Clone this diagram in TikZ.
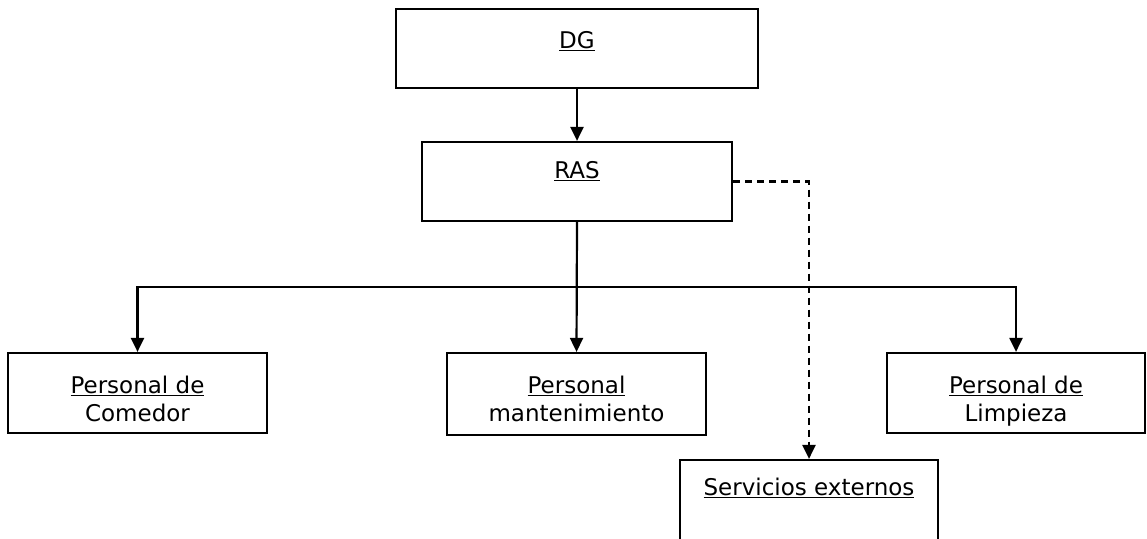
\documentclass[tikz,border=0pt]{standalone}
\usepackage{fontspec}
\setmainfont{DejaVu Sans}
\usetikzlibrary{arrows.meta}
\begin{document}
\begin{tikzpicture}[x=1pt,y=-1pt,
  box/.style={draw=black,line width=2.2pt,fill=white,rectangle,inner sep=0pt},
  lbl/.style={anchor=base,inner sep=0pt,font=\fontsize{23}{28}\selectfont},
  conn/.style={line width=2.2pt,-{Triangle[width=13pt,length=14pt]}},
  dsh/.style={conn,dash pattern=on 7pt off 5pt}]
\useasboundingbox (0,0) rectangle (1147,538);
\clip (0,0) rectangle (1147,538);
% boxes
\node[box,minimum width=362pt,minimum height=79pt] (dg) at (577,48.5) {};
\node[box,minimum width=310pt,minimum height=79pt] (ras) at (577,181.5) {};
\node[box,minimum width=259pt,minimum height=80pt] (com) at (137.5,393) {};
\node[box,minimum width=259pt,minimum height=82pt] (mant) at (576.5,394) {};
\node[box,minimum width=258pt,minimum height=80pt] (limp) at (1016,393) {};
\node[box,minimum width=258pt,minimum height=140pt] (serv) at (809,530) {};
% labels
\node[lbl] (tdg) at (577,48) {\underline{DG}};
\node[lbl] (tras) at (577,178) {\underline{RAS}};
\node[lbl] (tcom1) at (137.5,393) {\underline{Personal de}};
\node[lbl] (tcom2) at (137.5,421) {Comedor};
\node[lbl] (tmant1) at (576.5,393) {\underline{Personal}};
\node[lbl] (tmant2) at (576.5,421) {mantenimiento};
\node[lbl] (tlimp1) at (1016,393) {\underline{Personal de}};
\node[lbl] (tlimp2) at (1016,421) {Limpieza};
\node[lbl] (tserv) at (809,495) {\underline{Servicios externos}};
% connectors
\coordinate (bus) at (577,287);
\draw[conn] (dg.south) -- (ras.north);
\draw[conn] (ras.south) -- (mant.north);
\draw[line width=2.2pt] (com.north |- bus) -- (limp.north |- bus);
\draw[conn] (bus) -| (com.north);
\draw[conn] (bus) -| (limp.north);
\draw[dsh] (ras.east) -| (serv.north);
\end{tikzpicture}
\end{document}
